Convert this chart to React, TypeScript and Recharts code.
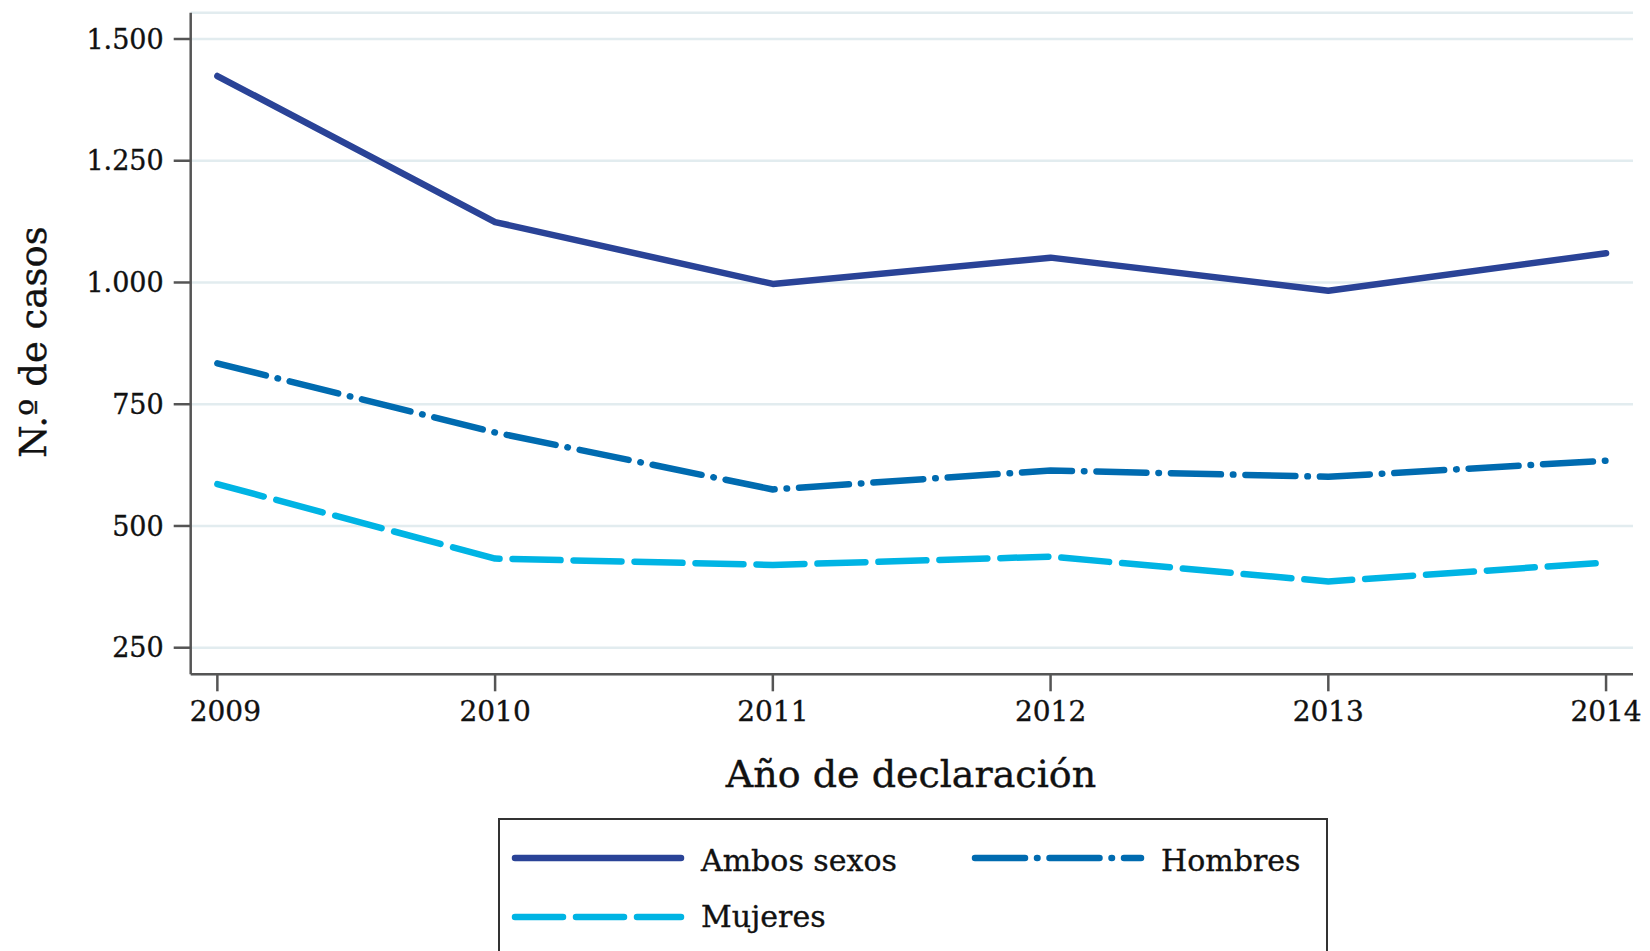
import { LineChart, Line, XAxis, YAxis, CartesianGrid } from "recharts";

/* ---------- data ---------- */
const years = [2009, 2010, 2011, 2012, 2013, 2014];
const ambosSexos = [1424, 1124, 997, 1051, 983, 1060];
const hombres = [834, 692, 575, 614, 601, 634];
const mujeres = [586, 433, 420, 437, 386, 425];

const yTicks = [250, 500, 750, 1000, 1250, 1500];
const yTickLabels = ["250", "500", "750", "1.000", "1.250", "1.500"];

const rows = years.map((year, i) => ({
  year,
  ambos: ambosSexos[i],
  hombres: hombres[i],
  mujeres: mujeres[i],
}));

/* ---------- styling ---------- */
const FONT = "'DejaVu Serif', serif";
const INK = "#111111";
const AXIS = "#555555";
const GRID = "#e2ecef";
const W = 6.5;

const SERIES = [
  { key: "ambos", name: "Ambos sexos", color: "#2a4397", dash: undefined as string | undefined },
  { key: "hombres", name: "Hombres", color: "#006bb0", dash: "50 12 0.5 12" },
  { key: "mujeres", name: "Mujeres", color: "#00b4e4", dash: "48 13" },
];

const yLabel = (v: number) => yTickLabels[yTicks.indexOf(v)] ?? String(v);

// x tick: first label sits a little right of its tick in the original
const XTick = ({ x, y, payload, index }: any) => (
  <text
    x={x + (index === 0 ? 8 : 0)} y={y} dy="0.71em"
    textAnchor="middle" fill={INK} fontSize={28} fontFamily={FONT}
    stroke={INK} strokeWidth={0.35}
  >
    {payload.value}
  </text>
);

/* ---------- legend (HTML overlay) ---------- */
const LegendItem = ({ s, left, top, textShift }: { s: typeof SERIES[number]; left: number; top: number; textShift: number }) => (
  <div style={{ position: "absolute", left, top, display: "flex", alignItems: "center" }}>
    <svg width={174} height={14} style={{ display: "block" }}>
      <line
        x1={4} y1={7} x2={170} y2={7}
        stroke={s.color} strokeWidth={W} strokeLinecap="round"
        strokeDasharray={s.dash}
      />
    </svg>
    <span
      style={{
        fontFamily: FONT, fontSize: 30, color: INK, marginLeft: 16, lineHeight: "30px",
        position: "relative", top: textShift, WebkitTextStroke: "0.35px #111",
      }}
    >
      {s.name}
    </span>
  </div>
);

export default function App() {
  return (
    <div style={{ position: "absolute", left: 0, top: 0, width: 1650, height: 951, overflow: "hidden", background: "#fff" }}>
      <LineChart
        width={1650}
        height={951}
        data={rows}
        margin={{ top: 12.7, right: 17, bottom: 216.7, left: 0 }}
      >
        <CartesianGrid vertical={false} stroke={GRID} strokeWidth={2.5} />

        <XAxis
          dataKey="year"
          type="number"
          domain={[2008.904, 2014.097]}
          ticks={years}
          allowDataOverflow
          height={60}
          axisLine={{ stroke: AXIS, strokeWidth: 2.5 }}
          tickLine={{ stroke: AXIS, strokeWidth: 2.5 }}
          tickSize={17}
          tickMargin={10}
          tick={<XTick />}
          label={{
            content: () => (
              <text x={911} y={787} textAnchor="middle" fill={INK} fontSize={38} fontFamily={FONT} stroke={INK} strokeWidth={0.4}>
                Año de declaración
              </text>
            ),
          }}
        />
        <YAxis
          type="number"
          domain={[195.4, 1554]}
          ticks={yTicks}
          allowDataOverflow
          width={190.7}
          axisLine={{ stroke: AXIS, strokeWidth: 2.5 }}
          tickLine={{ stroke: AXIS, strokeWidth: 2.5 }}
          tickSize={17}
          tickMargin={10}
          tickFormatter={yLabel}
          tick={{ fill: INK, fontSize: 27, fontFamily: FONT, stroke: INK, strokeWidth: 0.35 }}
          label={{
            content: () => (
              <text
                x={46} y={342}
                transform="rotate(-90 46 342)"
                textAnchor="middle" fill={INK} fontSize={37} fontFamily={FONT}
                stroke={INK} strokeWidth={0.4}
              >
                N.º de casos
              </text>
            ),
          }}
        />

        {SERIES.map(s => (
          <Line
            key={s.key}
            type="linear"
            dataKey={s.key}
            name={s.name}
            stroke={s.color}
            strokeWidth={W}
            strokeDasharray={s.dash}
            strokeLinecap="round"
            strokeLinejoin="round"
            dot={false}
            activeDot={false}
            isAnimationActive={false}
          />
        ))}
      </LineChart>

      <div
        style={{
          position: "absolute", left: 498, top: 818, width: 830, height: 170,
          border: "2px solid #333", boxSizing: "border-box", background: "#fff",
        }}
      >
        <LegendItem s={SERIES[0]} left={11} top={23} textShift={3} />
        <LegendItem s={SERIES[1]} left={471} top={23} textShift={3} />
        <LegendItem s={SERIES[2]} left={11} top={82} textShift={0} />
      </div>
    </div>
  );
}
